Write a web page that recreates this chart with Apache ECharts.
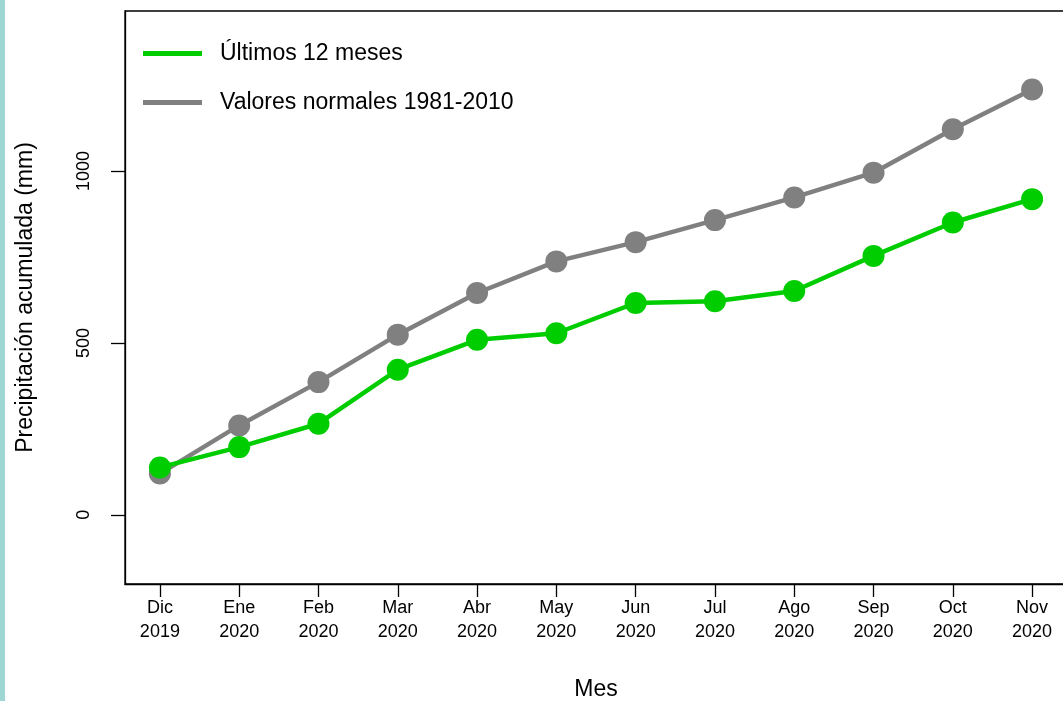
<!DOCTYPE html>
<html>
<head>
<meta charset="utf-8">
<script src="https://cdn.jsdelivr.net/npm/echarts@6/dist/echarts.min.js"></script>
<style>
    html, body { margin: 0; padding: 0; background: #fff; }
    #chart { width: 1063px; height: 701px; }
</style>
</head>
<body>
<div id="chart"></div>
<script>
// datos
const meses = ['Dic\n2019', 'Ene\n2020', 'Feb\n2020', 'Mar\n2020', 'Abr\n2020', 'May\n2020',
               'Jun\n2020', 'Jul\n2020', 'Ago\n2020', 'Sep\n2020', 'Oct\n2020', 'Nov\n2020'];
const ultimos12 = [138, 197, 265, 422, 509, 528, 616, 621, 651, 753, 850, 918];
const normales = [120, 260, 386, 524, 645, 737, 793, 857, 923, 995, 1121, 1237];
const yTicks = [0, 500, 1000];

const font = 'Liberation Sans, Arial, sans-serif';

const chart = echarts.init(document.getElementById('chart'));
const idx = meses.map((m, i) => i);

const option = {
    backgroundColor: '#fff',
    animation: false,
    graphic: [{
        type: 'rect',
        shape: { x: 0, y: 0, width: 5, height: 701 },
        style: { fill: '#9dd6d3' }
    }],
    grid: {
        left: 125, top: 11, bottom: 117, width: 942,
        outerBoundsMode: 'none',
        containLabel: false,
        show: true, borderColor: '#000', borderWidth: 1.3
    },
    legend: {
        orient: 'vertical',
        left: 138, top: 37,
        itemWidth: 59, itemHeight: 5,
        itemGap: 26,
        icon: 'rect',
        textStyle: { fontFamily: font, fontSize: 23, color: '#000', padding: [0, 0, 0, 13] },
        data: ['Últimos 12 meses', 'Valores normales 1981-2010']
    },
    xAxis: {
        type: 'value',
        min: -0.44, max: 11.44,
        name: 'Mes',
        nameLocation: 'middle',
        nameGap: 94,
        nameTextStyle: { fontFamily: font, fontSize: 23, color: '#000' },
        axisLine: { show: true, onZero: false, lineStyle: { color: '#000', width: 1.3 } },
        axisTick: { show: true, length: 13, customValues: idx, lineStyle: { color: '#000', width: 1.3 } },
        axisLabel: {
            customValues: idx,
            formatter: v => meses[Math.round(v)],
            fontFamily: font, fontSize: 18, color: '#000',
            lineHeight: 24, margin: 12
        },
        splitLine: { show: false }
    },
    yAxis: {
        type: 'value',
        min: -201, max: 1465,
        name: 'Precipitación acumulada (mm)',
        nameLocation: 'middle',
        nameGap: 88,
        nameTextStyle: { fontFamily: font, fontSize: 23, color: '#000' },
        axisLine: { show: true, onZero: false, lineStyle: { color: '#000', width: 1.3 } },
        axisTick: { show: true, length: 14, customValues: yTicks, lineStyle: { color: '#000', width: 1.3 } },
        axisLabel: {
            customValues: yTicks,
            formatter: v => String(v),
            rotate: 90,
            fontFamily: font, fontSize: 18, color: '#000',
            margin: 32
        },
        splitLine: { show: false }
    },
    series: [{
        name: 'Valores normales 1981-2010',
        type: 'line',
        data: normales.map((v, i) => [i, v]),
        symbol: 'circle',
        symbolSize: 22,
        lineStyle: { color: '#808080', width: 4.5 },
        itemStyle: { color: '#808080' }
    }, {
        name: 'Últimos 12 meses',
        type: 'line',
        data: ultimos12.map((v, i) => [i, v]),
        symbol: 'circle',
        symbolSize: 22,
        lineStyle: { color: '#00cd00', width: 4.5 },
        itemStyle: { color: '#00cd00' }
    }]
};
chart.setOption(option);
</script>
</body>
</html>
